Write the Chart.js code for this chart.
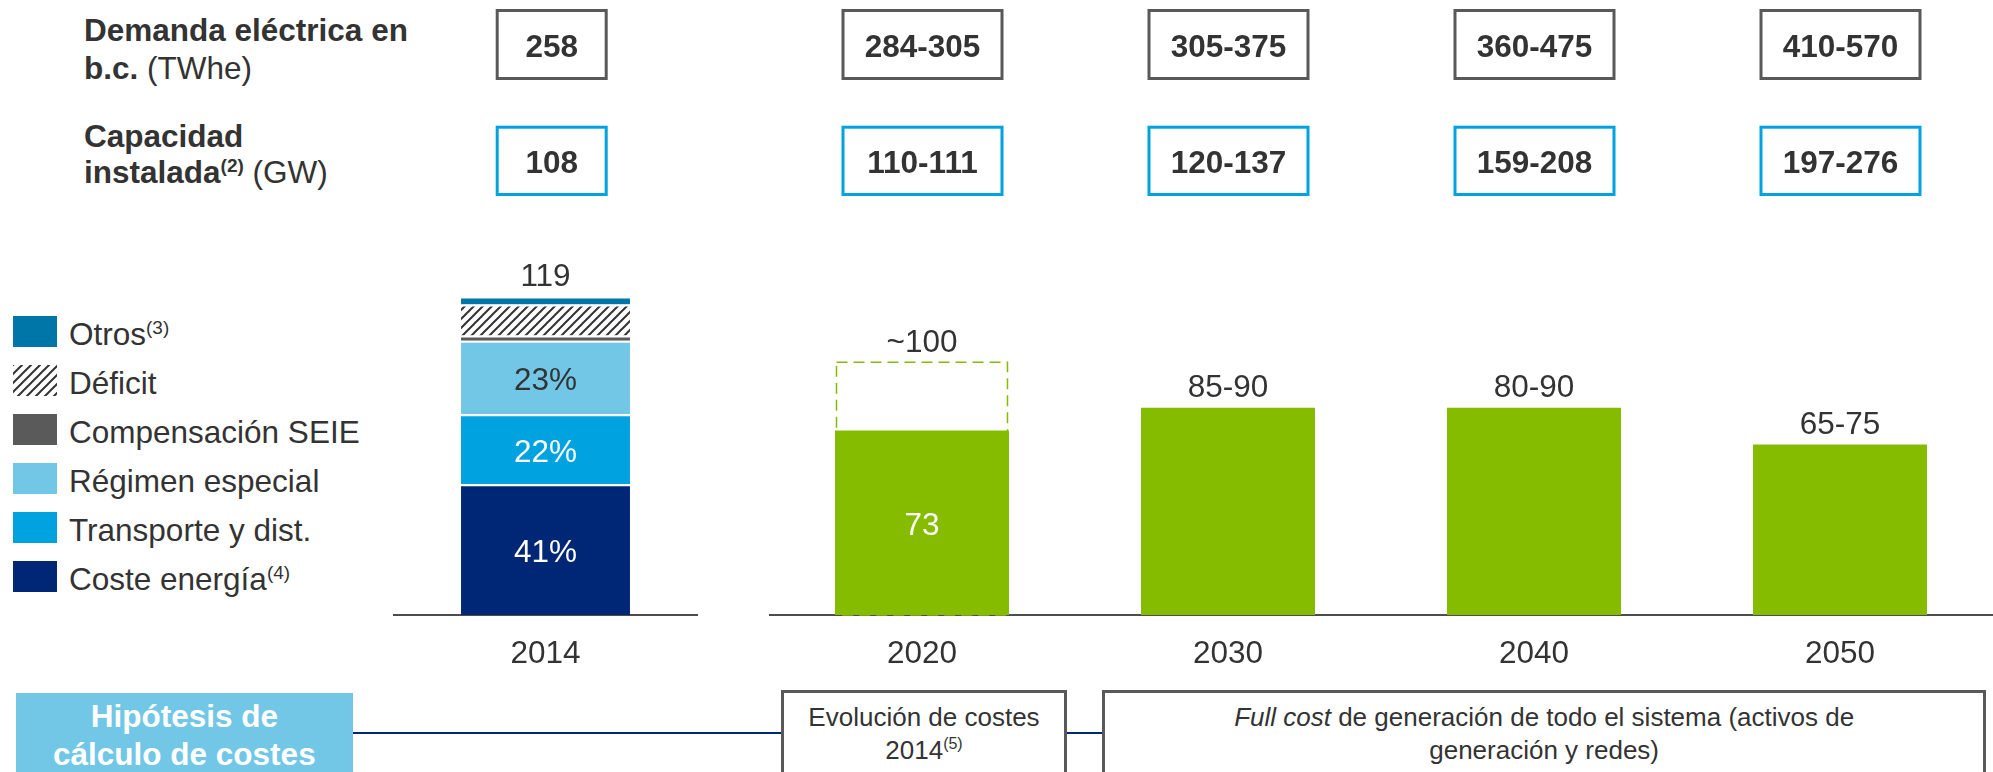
<!DOCTYPE html>
<html lang="es">
<head>
<meta charset="utf-8">
<script src="https://cdn.jsdelivr.net/npm/chart.js@4.4.1/dist/chart.umd.min.js"></script>
<style>
  html, body { margin:0; padding:0; background:#fff; overflow:hidden; }
  body { width:1993px; height:772px; position:relative; font-family:"Liberation Sans", Arial, sans-serif; color:#333; }
  .abs { position:absolute; }
  canvas { position:absolute; top:0; }
  .sup { font-size:19px; position:relative; top:-11px; line-height:0; }
  .bbox { position:absolute; top:690px; height:120px; border:3px solid #595959; box-sizing:border-box; background:#fff;
          font-size:26px; line-height:33.3px; padding-top:8px; text-align:center; color:#333; }
  .bbox .sup { font-size:16px; top:-10px; }
</style>
</head>
<body>
<div class="abs" style="left:84px; top:10.8px; font-size:31.5px; line-height:38px; white-space:nowrap;"><b>Demanda eléctrica en<br>b.c.</b> (TWhe)</div>
<div class="abs" style="left:84px; top:117.8px; font-size:31.5px; line-height:36px; white-space:nowrap;"><b>Capacidad<br>instalada<span class="sup">(2)</span></b> (GW)</div>

<div id="legend"></div>

<canvas id="c2014" width="305" height="772" style="left:393px;"></canvas>
<canvas id="cFut" width="1224" height="772" style="left:769px;"></canvas>

<div class="abs" style="left:352px; top:731.7px; width:760px; height:2px; background:#002776;"></div>
<div class="abs" style="left:16px; top:692.7px; width:336.7px; height:120px; background:#72C7E7; color:#fff; font-weight:bold; font-size:31.5px; line-height:38.3px; text-align:center; padding-top:4px; box-sizing:border-box;">Hipótesis de<br>cálculo de costes</div>
<div class="bbox" style="left:780.7px; width:286.6px;">Evolución de costes<br>2014<span class="sup">(5)</span></div>
<div class="bbox" style="left:1102.3px; width:883.7px;"><i>Full cost</i> de generación de todo el sistema (activos de<br>generación y redes)</div>

<script>
// ---------------- DATA ----------------
const years2014 = ['2014'];
const yearsFuture = ['2020', '2030', '2040', '2050'];

const seriesNames = ['Coste energía', 'Transporte y dist.', 'Régimen especial', 'Compensación SEIE', 'Déficit', 'Otros'];
const seriesNotes = ['(4)', '', '', '', '', '(3)'];
const coste = [48.8];
const transporte = [26.2];
const regimen = [27.4];
const compensacion = [2.0];
const deficit = [11.6];
const otros = [3.0];
const shareLabels = ['41%', '22%', '23%', '', '', ''];
const total2014Labels = ['119'];

const fullCost = [73, 82, 82, 67.5];
const estimate2020 = [100, null, null, null];
const futureTopLabels = ['~100', '85-90', '80-90', '65-75'];
const futureInnerLabels = ['73', '', '', ''];

const demanda = ['258', '284-305', '305-375', '360-475', '410-570'];
const capacidad = ['108', '110-111', '120-137', '159-208', '197-276'];

// ---------------- STYLE ----------------
const FONT = '"Liberation Sans", Arial, sans-serif';
const TXT = '#333333';
const seriesColors = ['#002776', '#00A3E0', '#72C7E7', '#5A5A5A', null, '#0076A8'];
const labelColors = ['#ffffff', '#ffffff', '#333333', '#333333', '#333333', '#333333'];
const GREEN = '#86BC00';

// hatch pattern for Déficit
function makeHatch() {
  const s = 9, c = document.createElement('canvas');
  c.width = s; c.height = s;
  const g = c.getContext('2d');
  g.fillStyle = '#fff'; g.fillRect(0, 0, s, s);
  g.strokeStyle = '#333'; g.lineWidth = 2;
  g.beginPath();
  g.moveTo(0, s); g.lineTo(s, 0);
  g.moveTo(-2, 2); g.lineTo(2, -2);
  g.moveTo(s - 2, s + 2); g.lineTo(s + 2, s - 2);
  g.stroke();
  return c;
}
const hatchCanvas = makeHatch();
const hatchPattern = document.getElementById('c2014').getContext('2d').createPattern(hatchCanvas, 'repeat');
seriesColors[4] = hatchPattern;

// ---------------- LEGEND (HTML) ----------------
(function () {
  const leg = document.getElementById('legend');
  const order = [5, 4, 3, 2, 1, 0];
  order.forEach((si, k) => {
    const top = 315.7 + 49 * k;
    const sw = document.createElement('div');
    sw.className = 'abs';
    sw.style.cssText = `left:13.3px; top:${top}px; width:43.4px; height:31.6px;`;
    if (si === 4) sw.style.backgroundImage = `url(${hatchCanvas.toDataURL()})`;
    else sw.style.background = seriesColors[si];
    leg.appendChild(sw);
    const tx = document.createElement('div');
    tx.className = 'abs';
    tx.style.cssText = `left:69px; top:${top + 0.4}px; font-size:31.5px; line-height:37px; white-space:nowrap; color:${TXT};`;
    tx.textContent = seriesNames[si];
    if (seriesNotes[si]) {
      const sp = document.createElement('span');
      sp.className = 'sup'; sp.textContent = seriesNotes[si];
      tx.appendChild(sp);
    }
    leg.appendChild(tx);
  });
})();

// ---------------- PLUGINS ----------------
const boxPlugin = {
  id: 'topBoxes',
  afterDraw(chart, args, opts) {
    const ctx = chart.ctx, xs = chart.scales.x;
    opts.rows.forEach(row => {
      row.values.forEach((v, i) => {
        const cx = xs.getPixelForValue(i) + opts.offset;
        ctx.save();
        ctx.lineWidth = 3; ctx.strokeStyle = row.color;
        ctx.strokeRect(cx - opts.width / 2 + 1.5, row.top + 1.5, opts.width - 3, row.height - 3);
        ctx.fillStyle = TXT;
        ctx.font = 'bold 31.5px ' + FONT;
        ctx.textAlign = 'center'; ctx.textBaseline = 'alphabetic';
        ctx.fillText(v, cx, row.top + row.height / 2 + 12);
        ctx.restore();
      });
    });
  }
};

const dashedPlugin = {
  id: 'dashedOutline',
  beforeDatasetsDraw(chart) {
    const ctx = chart.ctx;
    chart.data.datasets.forEach((ds, di) => {
      if (!ds.dashedOutline) return;
      const meta = chart.getDatasetMeta(di);
      meta.data.forEach((el, i) => {
        if (ds.data[i] == null) return;
        const p = el.getProps(['x', 'y', 'base', 'width'], true);
        ctx.save();
        ctx.setLineDash([11, 6]);
        ctx.lineWidth = 1.5;
        ctx.strokeStyle = ds.outlineColor;
        ctx.strokeRect(p.x - p.width / 2 + 1.5, p.y, p.width - 3, p.base - p.y);
        ctx.restore();
      });
    });
  }
};

const labelPlugin = {
  id: 'barLabels',
  afterDatasetsDraw(chart, args, opts) {
    const ctx = chart.ctx, xs = chart.scales.x;
    ctx.save();
    ctx.font = '31.5px ' + FONT;
    ctx.textAlign = 'center'; ctx.textBaseline = 'alphabetic';
    chart.data.datasets.forEach((ds, di) => {
      if (!ds.innerLabels) return;
      const meta = chart.getDatasetMeta(di);
      meta.data.forEach((el, i) => {
        const t = ds.innerLabels[i];
        if (!t || ds.data[i] == null) return;
        const p = el.getProps(['x', 'y', 'base'], true);
        ctx.fillStyle = ds.innerLabelColor;
        ctx.fillText(t, p.x, (p.y + p.base) / 2 + 1 + 11.3);
      });
    });
    opts.topLabels.forEach((t, i) => {
      let top = Infinity;
      chart.data.datasets.forEach((ds, di) => {
        if (ds.data[i] == null) return;
        const el = chart.getDatasetMeta(di).data[i];
        const p = el.getProps(['y', 'base'], true);
        top = Math.min(top, p.y, p.base);
      });
      ctx.fillStyle = TXT;
      ctx.fillText(t, xs.getPixelForValue(i), top - 22 + 11.3);
    });
    ctx.restore();
  }
};

function xAxis() {
  return {
    grid: { display: false, drawTicks: false },
    border: { display: true, color: '#4D4D4D', width: 2 },
    ticks: { color: TXT, font: { family: FONT, size: 31.5 }, padding: 20 },
    afterFit(s) { s.height = 60; }
  };
}

const commonOpts = {
  responsive: false,
  animation: false,
  layout: { padding: { top: 200, bottom: 97, left: 0, right: 0 } },
};

// ---------------- 2014 CHART ----------------
const stackData = [coste, transporte, regimen, compensacion, deficit, otros];
new Chart(document.getElementById('c2014'), {
  type: 'bar',
  data: {
    labels: years2014,
    datasets: stackData.map((d, si) => ({
      label: seriesNames[si],
      data: d,
      backgroundColor: seriesColors[si],
      borderColor: '#ffffff',
      borderWidth: { top: 2, left: 0, right: 0, bottom: 0 },
      borderSkipped: false,
      barPercentage: 0.554,
      categoryPercentage: 1,
      innerLabels: [shareLabels[si]],
      innerLabelColor: labelColors[si]
    }))
  },
  options: Object.assign({}, commonOpts, {
    scales: {
      x: Object.assign(xAxis(), { stacked: true }),
      y: { display: false, stacked: true, min: 0, max: 155 }
    },
    plugins: {
      legend: { display: false }, tooltip: { enabled: false },
      topBoxes: { width: 112, offset: 6.2, rows: [
        { values: demanda.slice(0, 1), color: '#595959', top: 9, height: 71 },
        { values: capacidad.slice(0, 1), color: '#00A3E0', top: 125.7, height: 70.3 }
      ] },
      barLabels: { topLabels: total2014Labels }
    }
  }),
  plugins: [dashedPlugin, labelPlugin, boxPlugin]
});

// ---------------- 2020-2050 CHART ----------------
new Chart(document.getElementById('cFut'), {
  type: 'bar',
  data: {
    labels: yearsFuture,
    datasets: [
      {
        label: 'Coste',
        data: fullCost,
        backgroundColor: GREEN,
        borderWidth: 0,
        grouped: false,
        barPercentage: 0.5686,
        categoryPercentage: 1,
        innerLabels: futureInnerLabels,
        innerLabelColor: '#ffffff',
        order: 0
      },
      {
        label: 'Estimación',
        data: estimate2020,
        backgroundColor: 'rgba(0,0,0,0)',
        borderWidth: 0,
        grouped: false,
        barPercentage: 0.5686,
        categoryPercentage: 1,
        dashedOutline: true,
        outlineColor: GREEN,
        order: 1
      }
    ]
  },
  options: Object.assign({}, commonOpts, {
    scales: {
      x: xAxis(),
      y: { display: false, min: 0, max: 164.2 }
    },
    plugins: {
      legend: { display: false }, tooltip: { enabled: false },
      topBoxes: { width: 162, offset: 0.5, rows: [
        { values: demanda.slice(1), color: '#595959', top: 9, height: 71 },
        { values: capacidad.slice(1), color: '#00A3E0', top: 125.7, height: 70.3 }
      ] },
      barLabels: { topLabels: futureTopLabels }
    }
  }),
  plugins: [dashedPlugin, labelPlugin, boxPlugin]
});
</script>
</body>
</html>
